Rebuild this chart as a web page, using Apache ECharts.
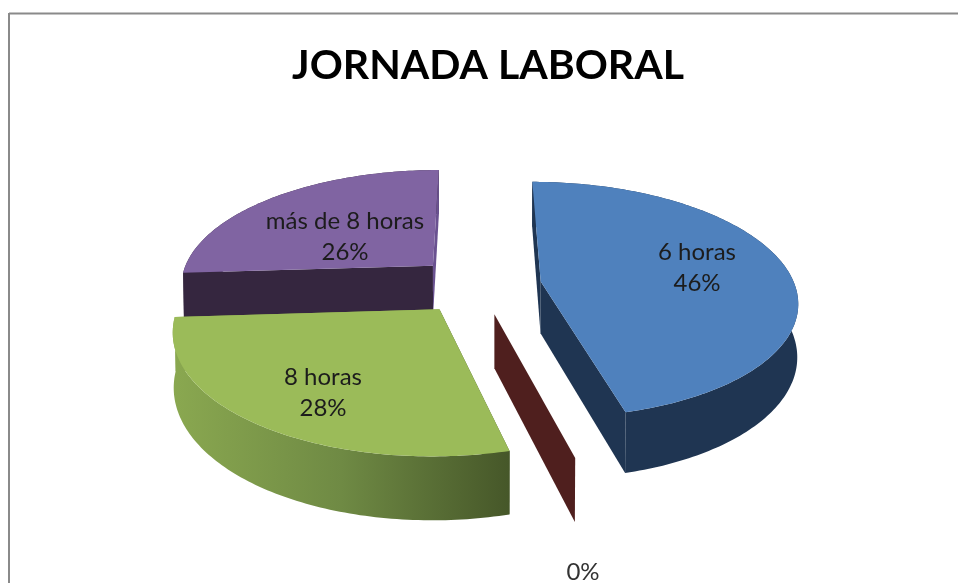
<!DOCTYPE html>
<html>
<head>
<meta charset="utf-8">
<title>Jornada laboral</title>
<script src="https://cdn.jsdelivr.net/npm/echarts@6/dist/echarts.min.js"></script>
<style>
  html, body { margin: 0; padding: 0; background: #fff; }
  #chart { width: 958px; height: 583px; }
</style>
</head>
<body>
<div id="chart"></div>
<script>
const categories = ['6 horas', '', '8 horas', 'más de 8 horas'];
const percentages = [46, 0, 28, 26];

const chartTitle = 'JORNADA LABORAL';

// 3d look: the pie plane goes through a perspective projection
const CX = 478, CY = 285;
const RX = 254, RY = 116;
const TILT = 0.155;      // front of the pie is closer
const THICK = 52;        // wall height
const SHRINK = 0.003;    // floor of the pie is a bit further away
const EXPLODE = 0.25;

const topColors = ['#4f81bd', '#c0504d', '#9bbb59', '#8064a2'];
const wallColors = [
  '#1f3552',
  '#4f1f1e',
  { type: 'linear', x: 0, y: 0, x2: 1, y2: 0, colorStops: [
    { offset: 0, color: '#8aa850' },
    { offset: 0.5, color: '#6f8a44' },
    { offset: 1, color: '#465729' }
  ] },
  '#35263f'
];
const startCutColors = ['#1f3552', '#4f1f1e', '#465729', '#35263f'];
const endCutColors = ['#1f3552', '#4f1f1e', '#8aa850', '#6a5290'];
const labelSpots = [[697, 268], [583, 572], [323, 393], [345, 237]];

const total = percentages.reduce((a, b) => a + b, 0);

function project(u, v, z) {
  const w = 1 - TILT * v;
  return [
    CX + RX * u / (w + SHRINK * z),
    CY + (RY * v + THICK * z) / w
  ];
}

function arcPoints(ox, oy, a0, a1, z) {
  const pts = [];
  const n = Math.max(1, Math.ceil((a1 - a0) / (Math.PI / 180)));
  for (let i = 0; i <= n; i++) {
    const a = a0 + (a1 - a0) * i / n;
    pts.push(project(ox + Math.sin(a), oy - Math.cos(a), z));
  }
  return pts;
}

function wall(ox, oy, a, fill, z2) {
  const ex = ox + Math.sin(a), ey = oy - Math.cos(a);
  return {
    type: 'polygon',
    z2: z2,
    shape: { points: [project(ox, oy, 0), project(ex, ey, 0), project(ex, ey, 1), project(ox, oy, 1)] },
    style: { fill: fill }
  };
}

function renderSlice(params, api) {
  const i = params.dataIndex;
  let before = 0;
  for (let k = 0; k < i; k++) before += percentages[k];
  const a0 = before / total * Math.PI * 2;
  const a1 = (before + api.value(0)) / total * Math.PI * 2;
  const mid = (a0 + a1) / 2;
  const ox = Math.sin(mid) * EXPLODE;
  const oy = -Math.cos(mid) * EXPLODE;
  const base = Math.round(oy * 100) + 100;
  // slices at the back show their cuts over the curved wall, front ones behind it
  const cutZ = oy < 0 ? base + 1 : base - 1;

  const children = [];
  if (a1 > a0) {
    const topArc = arcPoints(ox, oy, a0, a1, 0);
    const floorArc = arcPoints(ox, oy, a0, a1, 1);
    children.push({
      type: 'polygon',
      z2: base,
      shape: { points: topArc.concat(floorArc.reverse()) },
      style: { fill: wallColors[i] }
    });
    children.push(wall(ox, oy, a0, startCutColors[i], cutZ));
    children.push(wall(ox, oy, a1, endCutColors[i], cutZ));
    children.push({
      type: 'polygon',
      z2: base + 2,
      shape: { points: [project(ox, oy, 0)].concat(topArc) },
      style: { fill: topColors[i] }
    });
  } else {
    children.push(wall(ox, oy, a0, startCutColors[i], base + 1));
  }

  const name = categories[i];
  children.push({
    type: 'text',
    z2: 300,
    x: labelSpots[i][0],
    y: labelSpots[i][1],
    style: {
      text: (name ? name + '\n' : '') + api.value(0) + '%',
      fontFamily: 'Lato',
      fontSize: 24,
      lineHeight: 31,
      fill: i === 1 ? '#333' : '#1c1c1c',
      align: 'center',
      verticalAlign: 'middle'
    }
  });
  return { type: 'group', children: children };
}

const chart = echarts.init(document.getElementById('chart'));
chart.setOption({
  animation: false,
  backgroundColor: '#fff',
  title: {
    text: chartTitle,
    left: 483,
    top: 40,
    textAlign: 'center',
    textStyle: { fontFamily: 'Lato', fontWeight: 'bold', fontSize: 41, color: '#000' }
  },
  graphic: [
    { type: 'line', shape: { x1: 9, y1: 13.5, x2: 958, y2: 13.5 }, style: { stroke: '#8a8a8a', lineWidth: 2 } },
    { type: 'line', shape: { x1: 9, y1: 13, x2: 9, y2: 583 }, style: { stroke: '#8a8a8a', lineWidth: 2 } }
  ],
  series: [{
    type: 'custom',
    coordinateSystem: 'none',
    renderItem: renderSlice,
    data: percentages.map(v => [v])
  }]
});
</script>
</body>
</html>
